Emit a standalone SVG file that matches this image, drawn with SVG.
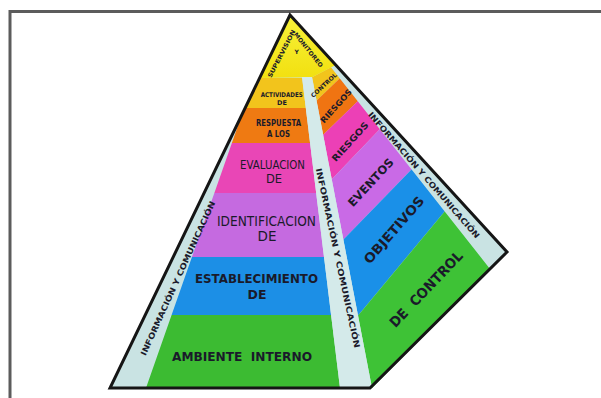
<svg xmlns="http://www.w3.org/2000/svg" width="601" height="398" viewBox="0 0 601 398">
<style>
text{font-family:"DejaVu Sans","Liberation Sans",sans-serif;fill:#1a1a2a;text-anchor:middle}
.b{font-weight:bold}
.n{font-weight:normal}
</style>
<defs>
<clipPath id="front"><polygon points="290,15 241.7,115 146,388 340,388 302,77 302,15"/></clipPath>
<clipPath id="right"><polygon points="312,77 372,388 490,268.9 300,28"/></clipPath>
<linearGradient id="cap" x1="0" y1="0" x2="0" y2="1"><stop offset="0" stop-color="#f7f23a"/><stop offset="1" stop-color="#f2e010"/></linearGradient>
</defs>
<rect width="601" height="398" fill="#ffffff"/>
<path d="M10,400 V11.5 H601" fill="none" stroke="#5c5c5c" stroke-width="3"/>
<g id="pyramid-base"><polygon points="290,15 507,252 370,388 110,388" fill="#c9e3e3"/></g>
<g id="front-face" clip-path="url(#front)">
<rect x="100" y="78" width="260" height="30" fill="#f2c41c"/>
<rect x="100" y="108" width="260" height="35" fill="#ef7a12"/>
<rect x="100" y="143" width="260" height="50" fill="#e946b6"/>
<rect x="100" y="193" width="260" height="64" fill="#c56ae0"/>
<rect x="100" y="257" width="260" height="58" fill="#1c8fe6"/>
<rect x="100" y="315" width="260" height="75" fill="#3cbb32"/>
</g>
<g id="right-face" clip-path="url(#right)">
<polygon points="300,83.6 360,52.1 360,58.8 300,116.4" fill="#f2c41c"/>
<polygon points="300,116.4 420,1.2 420,40.9 300,157.2" fill="#f07412"/>
<polygon points="300,157.2 460,2 460,45.5 300,212.4" fill="#ec40b6"/>
<polygon points="300,212.4 500,3.8 500,78.4 300,284.2" fill="#c96ae6"/>
<polygon points="300,284.2 520,57.9 520,120.9 300,385.3" fill="#1a90e8"/>
<polygon points="300,385.3 520,120.9 520,400 300,400" fill="#3ec236"/>
</g>
<g id="cap-area"><polygon points="290,15 259.6,78 312,77.3 335.7,64.9" fill="url(#cap)"/></g>
<g id="center-strip"><polygon points="302,77 312,77 372,388 340,388" fill="#d4eaea"/></g>
<g id="outline"><polygon points="290,15 507,252 370,388 110,388" fill="none" stroke="#151515" stroke-width="3"/></g>

<g id="supervision">
<text class="b" font-size="6" transform="translate(281.7,53.7) rotate(-62.4)" y="2" textLength="53" lengthAdjust="spacingAndGlyphs">SUPERVISION</text>
<text class="b" font-size="6" x="296.7" y="54">Y</text>
<text class="b" font-size="6" transform="translate(308.3,50) rotate(51.4)" y="2" textLength="42.7" lengthAdjust="spacingAndGlyphs">MONITOREO</text>
</g>
<g id="actividades">
<text class="b" font-size="6.5" x="281.7" y="96.7" textLength="42" lengthAdjust="spacingAndGlyphs">ACTIVIDADES</text>
<text class="b" font-size="6.5" x="282" y="105.3">DE</text>
<text class="b" font-size="6" transform="translate(324,85.3) rotate(-43)" y="2" textLength="33" lengthAdjust="spacingAndGlyphs">CONTROL</text>
</g>
<g id="respuesta">
<text class="b" font-size="8" x="278.5" y="126" textLength="45" lengthAdjust="spacingAndGlyphs" fill="#3a1010">RESPUESTA</text>
<text class="b" font-size="8" x="278.5" y="136.7" textLength="23" lengthAdjust="spacingAndGlyphs" fill="#3a1010">A LOS</text>
<text class="b" font-size="8" transform="translate(336,106) rotate(-48)" y="3" textLength="42.5" lengthAdjust="spacingAndGlyphs">RIESGOS</text>
</g>
<g id="evaluacion">
<text class="n" font-size="11.5" x="272.5" y="168.5" textLength="65" lengthAdjust="spacingAndGlyphs" fill="#5a1858">EVALUACION</text>
<text class="n" font-size="11.5" x="274" y="183" fill="#5a1858">DE</text>
<text class="b" font-size="9" transform="translate(350,141.7) rotate(-47.7)" y="3.2" textLength="49.6" lengthAdjust="spacingAndGlyphs">RIESGOS</text>
</g>
<g id="identificacion">
<text class="n" font-size="13.5" x="266.5" y="225.7" textLength="99" lengthAdjust="spacingAndGlyphs" fill="#4a1a5a">IDENTIFICACION</text>
<text class="n" font-size="13.5" x="267" y="241" fill="#4a1a5a">DE</text>
<text class="b" font-size="11.5" transform="translate(370.8,182.5) rotate(-47)" y="4" textLength="61" lengthAdjust="spacingAndGlyphs" fill="#2a1040">EVENTOS</text>
</g>
<g id="establecimiento">
<text class="b" font-size="12.5" x="256.5" y="283.3" textLength="123" lengthAdjust="spacingAndGlyphs" fill="#0a1c38">ESTABLECIMIENTO</text>
<text class="b" font-size="12.5" x="257" y="299" fill="#0a1c38">DE</text>
<text class="b" font-size="13" transform="translate(394,230) rotate(-49)" y="4.5" textLength="84" lengthAdjust="spacingAndGlyphs" fill="#0a1c38">OBJETIVOS</text>
</g>
<g id="ambiente">
<text class="b" font-size="13" x="242" y="361" textLength="140" lengthAdjust="spacingAndGlyphs" fill="#0a2a0a" style="white-space:pre">AMBIENTE  INTERNO</text>
<text class="b" font-size="14" transform="translate(426,289) rotate(-46.4)" y="5" textLength="99" lengthAdjust="spacingAndGlyphs" fill="#0a2a0a" style="white-space:pre">DE  CONTROL</text>
</g>
<g id="informacion">
<text class="b" font-size="8" transform="translate(177.7,278.3) rotate(-65.5)" y="3" textLength="168.5" lengthAdjust="spacingAndGlyphs">INFORMACIÓN Y COMUNICACIÓN</text>
<text class="b" font-size="8" transform="translate(338,258) rotate(77.8)" y="3" textLength="184" lengthAdjust="spacingAndGlyphs">INFORMACIÓN Y COMUNICACIÓN</text>
<text class="b" font-size="8" transform="translate(424,175) rotate(48.9)" y="3" textLength="164.5" lengthAdjust="spacingAndGlyphs">INFORMACIÓN Y COMUNICACIÓN</text>
</g>
</svg>
